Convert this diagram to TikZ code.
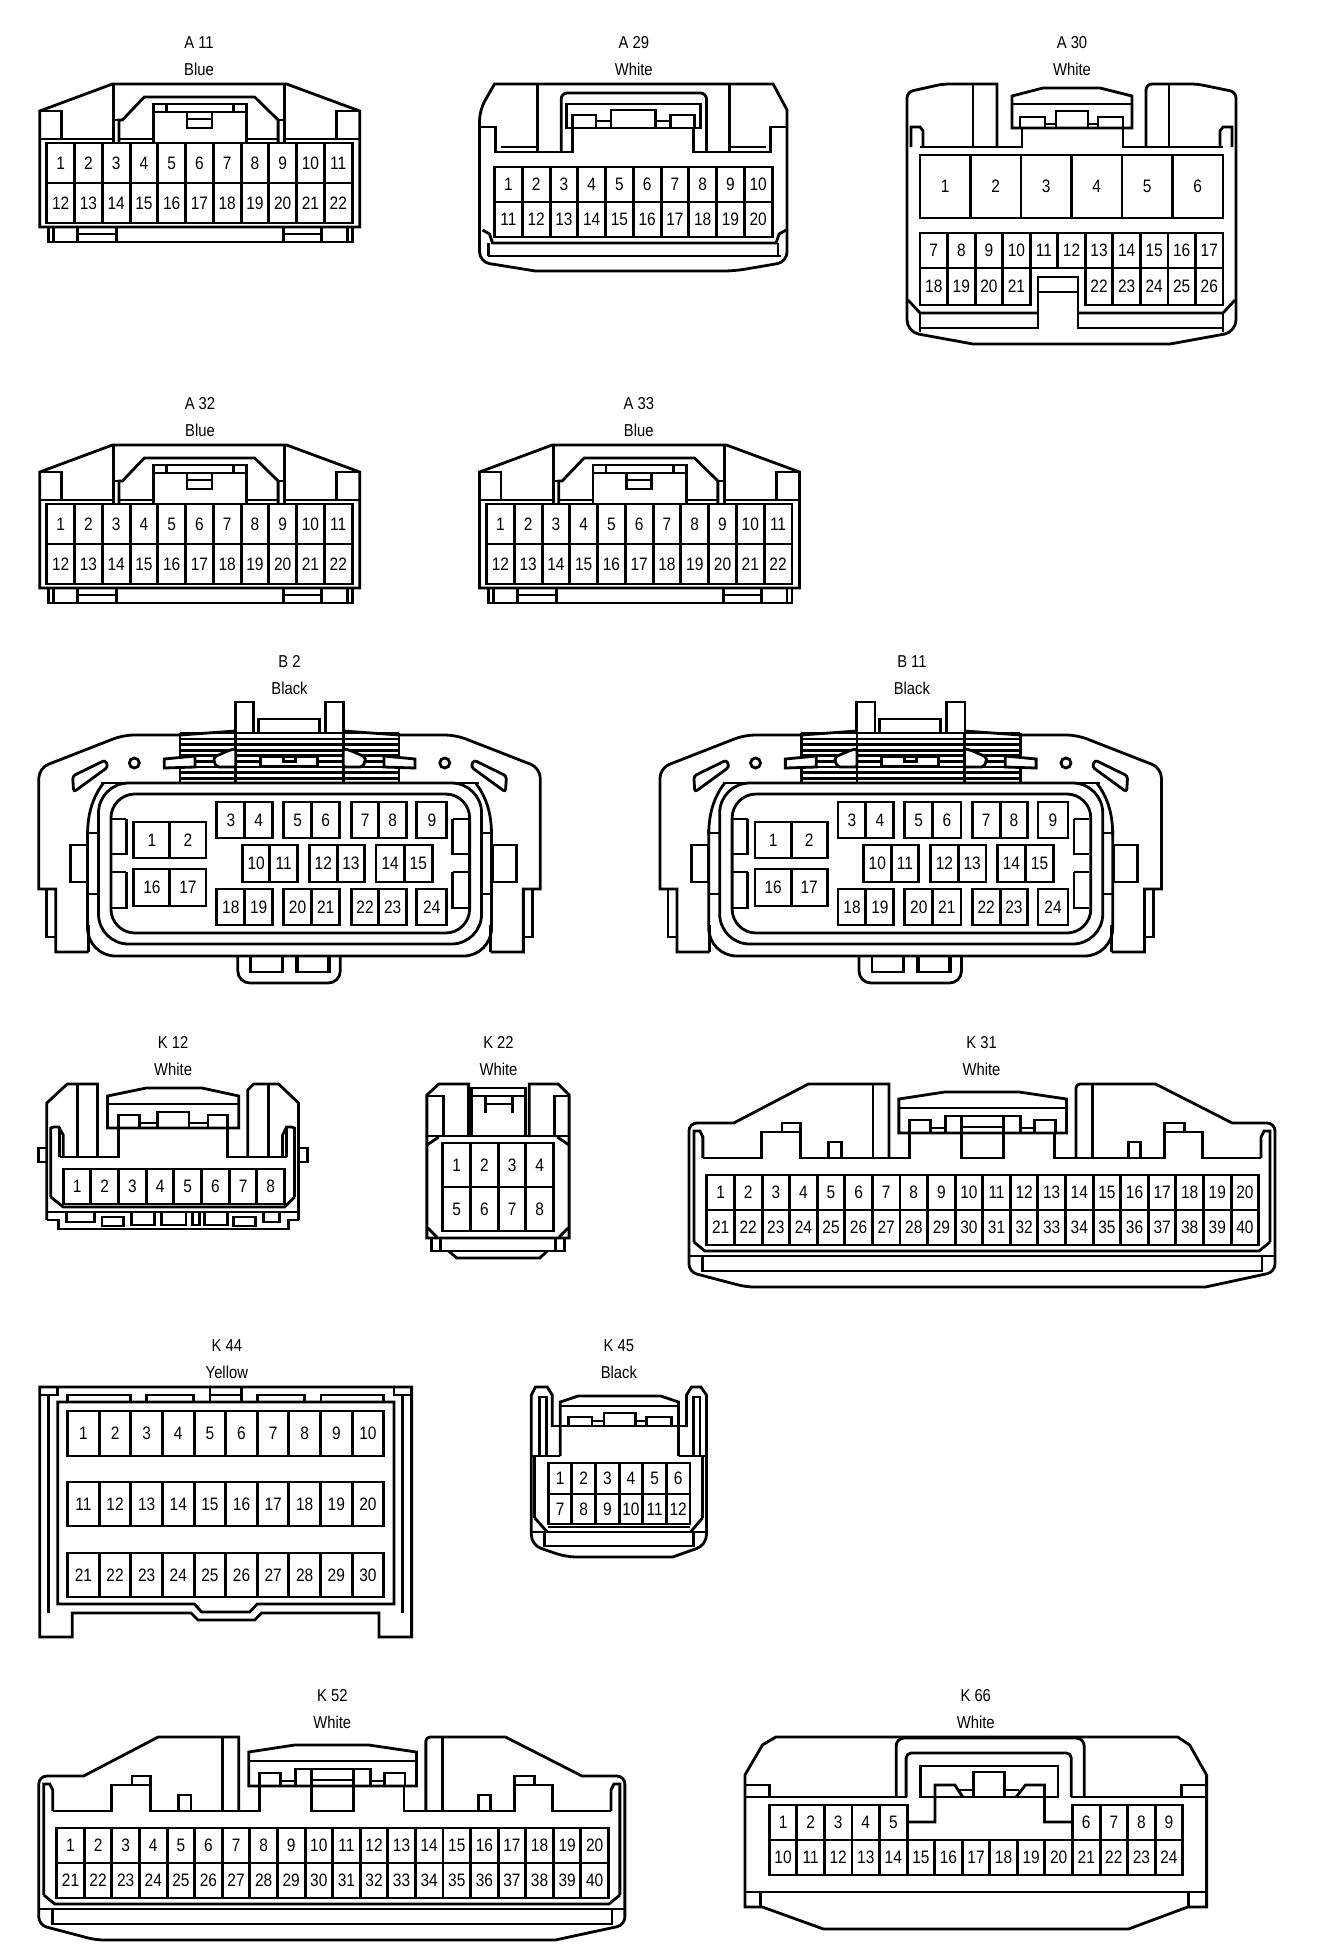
\documentclass[tikz,border=0pt]{standalone}
\usepackage{fontspec}
\setmainfont[FakeStretch=0.86]{Liberation Sans}
\usetikzlibrary{positioning}

\tikzset{
	conn/.style={line width=1.4pt},
	pin/.style={rectangle, draw, line width=1.4pt, inner sep=0pt, outer sep=0pt, font=\fontsize{9}{10}\selectfont},
	title/.style={inner sep=0pt, text height=7pt, text depth=2pt, font=\fontsize{8.6}{10}\selectfont},
	hatch/.style={line width=1.4pt}
}

% one row of pins: name, x, y, cell width, cell height, first, last
\newcommand{\pinrow}[7]{
	\foreach \n [count=\c from 0] in {#6,...,#7} {
		\node[pin, minimum width=#4*0.5pt, minimum height=#5*0.5pt] (#1-\n) at ({#2+(\c+0.5)*#4},{#3+#5/2}) {\n};
	}
}

% 22 pin blue housing
\newcommand{\connblue}[3]{
	\begin{scope}[shift={(#2,#3)}]
		\draw[conn] (40,227) -- (40,111) -- (113,84) -- (288,84) -- (361.5,111) -- (361.5,227) -- cycle;
		\draw[conn] (40,111) -- (61.5,111) -- (61.5,139);
		\draw[conn] (361.5,111) -- (338.5,111) -- (338.5,139);
		\draw[conn] (40,139) -- (114,139) -- (114,84);
		\draw[conn] (361.5,139) -- (286,139) -- (286,84);
		\draw[conn] (114,139) -- (114,143);
		\draw[conn] (286,139) -- (286,143);
		\draw[conn] (119.5,143) -- (119.5,120) -- (123,120) -- (145,97) -- (256,97) -- (279.5,120) -- (279.5,143);
		\draw[conn] (279.5,120) -- (286,120);
		\draw[conn] (114,120) -- (119.5,120);
		\draw[conn] (119.5,139) -- (154,139);
		\draw[conn] (248,139) -- (279.5,139);
		\draw[conn] (154,143) -- (154,104) -- (248,104) -- (248,143);
		\draw[conn] (154,112) -- (248,112);
		\draw[conn] (167,104) -- (167,112);
		\draw[conn] (235,104) -- (235,112);
		\draw[conn] (188,112) rectangle (213,128);
		\draw[conn] (188,119) -- (213,119);
		\pinrow{#1}{47}{143}{27.9}{40}{1}{11}
		\pinrow{#1}{47}{183}{27.9}{40}{12}{22}
		\draw[conn] (49,227) -- (49,242) -- (354,242) -- (354,227);
		\draw[conn] (54,227) -- (54,242);
		\draw[conn] (349,227) -- (349,242);
		\draw[conn] (78,227) -- (78,242);
		\draw[conn] (117,227) -- (117,242);
		\draw[conn] (78,234) -- (117,234);
		\draw[conn] (285,227) -- (285,242);
		\draw[conn] (323,227) -- (323,242);
		\draw[conn] (285,234) -- (323,234);
	\end{scope}
}

% 24 pin black housing
\newcommand{\connblack}[3]{
	\begin{scope}[shift={(#2,#3)}]
		\foreach \yy in {739,744.6,750.2,755.8,761.4,767,772.6,778.2} {
			\draw[hatch] (181,\yy) -- (401,\yy);
		}
		\foreach \s in {1,-1} {
			\begin{scope}[shift={(291,0)},xscale=\s,shift={(-291,0)}]
				\draw[conn] (89,952) -- (56,952) -- (56,889) -- (39,889) [rounded corners=5pt] -- (39,768) -- (124,735) [sharp corners] -- (181,735) -- (236.5,731);
				\draw[conn] (89,925) -- (89,952);
				\draw[conn] (47,889) -- (47,937) -- (56,937);
				\draw[conn] (236.5,733) -- (236.5,702) -- (255,702) -- (255,733);
				\draw[conn, rounded corners=1.5pt] (73,776) -- (106,760) -- (108.5,767) -- (74,792) -- cycle;
				\draw[conn] (135,763) circle[radius=5];
				\draw[conn] (181,733) -- (181,783);
				\draw[conn] (237,733) -- (237,783);
				\draw[conn, fill=white] (165,759) -- (196,756) -- (196,767) -- (165,768) -- cycle;
				\draw[conn, fill=white, rounded corners=1pt] (215,757) -- (231,750) -- (237,749) -- (237,767) -- (218,767) -- (215,762) -- cycle;
				\draw[conn] (89,833) -- (99,833);
				\draw[conn] (89,894) -- (99,894);
				\draw[conn] (127,819) -- (111.5,819);
				\draw[conn] (127,819) -- (127,854) -- (111.5,854);
				\draw[conn] (127,872) -- (111.5,872);
				\draw[conn] (127,872) -- (127,908) -- (111.5,908);
				\draw[conn] (88,835) .. controls (88,810) and (95,795) .. (104,783);
				\draw[conn, rounded corners=14pt] (88,830) -- (88,956) -- (291,956);
				\draw[conn] (252,956) -- (252,972) -- (284,972) -- (284,956);
			\end{scope}
		}
		\draw[conn] (260,733) -- (260,719) -- (321,719) -- (321,733);
		\draw[conn] (181,733) -- (401,733);
		\draw[conn] (102,783) -- (481,783);
		\draw[conn, fill=white] (262,757) rectangle (319,766);
		\draw[conn] (285,757) -- (285,761.5) -- (297,761.5) -- (297,757);
		\draw[conn, rounded corners=15pt] (99,783) rectangle (484,944);
		\draw[conn, rounded corners=12pt] (111.5,794) rectangle (472,933);
		\draw[conn] (71,845) rectangle (88,882);
		\draw[conn] (495,845) rectangle (519,882);
		\draw[conn] (239,956) -- (239,966) [rounded corners=6pt] -- (239,983) -- (342,983) [sharp corners] -- (342,956);
		\draw[conn] (299,956) -- (299,972) -- (331,972) -- (331,956);
		\pinrow{#1}{134.6}{822}{36.2}{36}{1}{2}
		\pinrow{#1}{134.6}{869}{36.2}{37}{16}{17}
		\pinrow{#1}{218}{802}{28}{36}{3}{4}
		\pinrow{#1}{285}{802}{28.2}{36}{5}{6}
		\pinrow{#1}{353}{802}{27.8}{36}{7}{8}
		\pinrow{#1}{419}{802}{30}{36}{9}{9}
		\pinrow{#1}{243.5}{845}{27.8}{37}{10}{11}
		\pinrow{#1}{311}{845}{27.8}{37}{12}{13}
		\pinrow{#1}{378}{845}{28.3}{37}{14}{15}
		\pinrow{#1}{218}{889}{28}{36}{18}{19}
		\pinrow{#1}{285}{889}{28.2}{36}{20}{21}
		\pinrow{#1}{353}{889}{27.8}{36}{22}{23}
		\pinrow{#1}{419}{889}{30}{36}{24}{24}
	\end{scope}
}

% 40 pin white housing
\newcommand{\connwide}[3]{
	\begin{scope}[shift={(#2,#3)}]
		\draw[conn] (890,1158) -- (890,1084) -- (809,1084) -- (734,1123) [rounded corners=4pt] -- (689,1123) -- (689,1272) -- (746.5,1287) [sharp corners] -- (1208,1287) [rounded corners=4pt] -- (1278,1272) -- (1278,1123) [sharp corners] -- (1235,1123) -- (1158,1084) [rounded corners=2pt] -- (1078,1084) [sharp corners] -- (1078,1158);
		\draw[conn] (703,1158) -- (762,1158) -- (762,1132) -- (801,1132) -- (801,1158) -- (910.6,1158) -- (910.6,1133);
		\draw[conn] (1056,1133) -- (1056,1158) -- (1167,1158) -- (1167,1132) -- (1205.5,1132) -- (1205.5,1158) -- (1264,1158);
		\draw[conn] (782.6,1132) -- (782.6,1123) -- (801,1123) -- (801,1132);
		\draw[conn] (1167,1132) -- (1167,1123) -- (1187,1123) -- (1187,1132);
		\draw[conn] (829.6,1158) -- (829.6,1142) -- (842,1142) -- (842,1158);
		\draw[conn] (1131,1158) -- (1131,1142) -- (1143,1142) -- (1143,1158);
		\draw[conn] (874,1084) -- (874,1158);
		\draw[conn] (1094.6,1084) -- (1094.6,1158);
		\draw[conn] (694,1242) -- (694,1131) -- (700,1131) -- (703,1137) -- (703,1158);
		\draw[conn] (1273,1242) -- (1273,1131) -- (1267,1131) -- (1264,1137) -- (1264,1158);
		\draw[conn] (900,1133) -- (900,1099) -- (946,1092) -- (1020.7,1092) -- (1068.5,1099) -- (1068.5,1133) -- cycle;
		\draw[conn] (900,1108) -- (1068.5,1108);
		\draw[conn] (910.6,1133) -- (910.6,1120) -- (932,1120) -- (932,1133);
		\draw[conn] (1036.5,1133) -- (1036.5,1120) -- (1057,1120) -- (1057,1133);
		\draw[conn] (932,1128) -- (947,1128);
		\draw[conn] (1022,1128) -- (1036.5,1128);
		\draw[conn] (947,1133) -- (947,1116) -- (1022,1116) -- (1022,1133);
		\draw[conn] (963,1116) -- (963,1158) -- (1005,1158) -- (1005,1116);
		\draw[conn] (963,1127) -- (1005,1127);
		\pinrow{#1}{707}{1175}{27.73}{35}{1}{20}
		\pinrow{#1}{707}{1210}{27.73}{35}{21}{40}
		\draw[conn] (694,1242) -- (705,1251) -- (1262,1251) -- (1273,1242);
		\draw[conn] (689,1256) -- (1278,1256);
		\draw[conn] (703,1256) -- (703,1271) -- (1265,1271) -- (1265,1256);
	\end{scope}
}

\begin{document}
\begin{tikzpicture}[x=0.5pt,y=-0.5pt]
	\useasboundingbox (0,0) rectangle (1328,1960);

	\node[title] (A30t) at (1072,43) {A 30};
	\node[title, below=4.5pt of A30t] (A30c) {White};
	\draw[conn] (997,147) -- (997,84) [rounded corners=3pt] -- (943,84) -- (907,92) [rounded corners=6pt] -- (907,332) [sharp corners] -- (973,344) -- (1170,344) [rounded corners=6pt] -- (1236,332) [rounded corners=3pt] -- (1236,92) -- (1197,84) -- (1146,84) [sharp corners] -- (1146,147);
	\draw[conn] (920,147) -- (1022,147) -- (1022,128);
	\draw[conn] (1123,128) -- (1123,147) -- (1223,147);
	\draw[conn] (1012,128) -- (1012,96) -- (1043,88) -- (1100,88) -- (1132,96) -- (1132,128) -- cycle;
	\draw[conn] (1012,104) -- (1132,104);
	\draw[conn] (911,147) -- (911,127) -- (920,127) -- (923,131) -- (923,147);
	\draw[conn] (1232,147) -- (1232,127) -- (1223,127) -- (1220,131) -- (1220,147);
	\draw[conn] (973,84) -- (973,147);
	\draw[conn] (1169,84) -- (1169,147);
	\draw[conn] (1020,128) -- (1020,117) -- (1045,117) -- (1045,128);
	\draw[conn] (1056,128) -- (1056,111) -- (1088,111) -- (1088,128);
	\draw[conn] (1098,128) -- (1098,117) -- (1123,117) -- (1123,128);
	\draw[conn] (1045,124) -- (1056,124);
	\draw[conn] (1088,124) -- (1098,124);
	\pinrow{A30}{920}{155}{50.5}{63}{1}{6}
	\pinrow{A30}{920}{233}{27.55}{35}{7}{17}
	\pinrow{A30}{920}{268}{27.55}{37}{18}{21}
	\pinrow{A30}{1085.3}{268}{27.55}{37}{22}{26}
	\draw[conn] (920,328) -- (1038,328) -- (1038,277) -- (1078,277) -- (1078,328) -- (1223,328);
	\draw[conn] (1038,292) -- (1078,292);
	\draw[conn] (908,300) -- (920,313) -- (1038,313);
	\draw[conn] (1235,300) -- (1223,313) -- (1078,313);
	\draw[conn] (920,313) -- (920,332);
	\draw[conn] (1223,313) -- (1223,332);

	\begin{scope}[xscale=0.995]
	% first row
	\node[title] (A11t) at (200,43) {A 11};
	\node[title, below=4.5pt of A11t] (A11c) {Blue};
	\connblue{A11}{0}{0}

	\node[title] (A29t) at (637,43) {A 29};
	\node[title, below=4.5pt of A29t] (A29c) {White};
	\draw[conn] (497,84) -- (777,84) -- (791,110) [rounded corners=5pt] -- (791,262) -- (738,271) [sharp corners] -- (538,271) [rounded corners=5pt] -- (482,262) -- (482,110) [sharp corners] -- cycle;
	\draw[conn] (482,127) -- (498,127) -- (498,152) -- (575,152) -- (575,128);
	\draw[conn] (697,128) -- (697,152) -- (774,152) -- (774,127) -- (791,127);
	\draw[conn, rounded corners=3pt] (564,152) -- (564,93) -- (710,93) -- (710,152);
	\draw[conn] (569,104) rectangle (704,128);
	\draw[conn] (540,84) -- (540,152);
	\draw[conn] (733,84) -- (733,152);
	\draw[conn] (503.6,147) -- (540,147);
	\draw[conn] (733,147) -- (770,147);
	\draw[conn] (575,128) -- (575,115) -- (599,115) -- (599,128);
	\draw[conn] (614,128) -- (614,110) -- (659,110) -- (659,128);
	\draw[conn] (674,128) -- (674,115) -- (698,115) -- (698,128);
	\draw[conn] (599,121) -- (614,121);
	\draw[conn] (659,121) -- (674,121);
	\pinrow{A29}{497}{167}{27.9}{35}{1}{10}
	\pinrow{A29}{497}{202}{27.9}{35}{11}{20}
	\draw[conn] (485,230) -- (492,234) -- (495,243) -- (780,243) -- (783,234) -- (790,230);
	\draw[conn] (490,256) -- (785,256);
	\draw[conn] (491,243) -- (491,256);
	\draw[conn] (782,243) -- (782,256);

	% second row
	\node[title] (A32t) at (201,404) {A 32};
	\node[title, below=4.5pt of A32t] (A32c) {Blue};
	\connblue{A32}{0}{361}

	\node[title] (A33t) at (642,404) {A 33};
	\node[title, below=4.5pt of A33t] (A33c) {Blue};
	\connblue{A33}{442}{361}

	% third row
	\node[title] (B2t) at (291,662) {B 2};
	\node[title, below=4.5pt of B2t] (B2c) {Black};
	\connblack{B2}{0}{0}

	\node[title] (B11t) at (916.5,662) {B 11};
	\node[title, below=4.5pt of B11t] (B11c) {Black};
	\connblack{B11}{624.3}{0}

	% fourth row
	\node[title] (K12t) at (174,1043) {K 12};
	\node[title, below=4.5pt of K12t] (K12c) {White};
	\draw[conn] (47,1220) -- (47,1103) -- (67.6,1084) -- (98,1084) -- (98,1157);
	\draw[conn] (249,1157) -- (249,1090) -- (255,1084) -- (280,1084) -- (300,1103) -- (300,1220);
	\draw[conn] (78,1084) -- (78,1157);
	\draw[conn] (270,1084) -- (270,1157);
	\draw[conn] (60,1157) -- (119,1157) -- (119,1128);
	\draw[conn] (228.5,1128) -- (228.5,1157) -- (288,1157);
	\draw[conn] (108,1128) -- (108,1096) -- (147,1088) -- (203,1088) -- (240,1096) -- (240,1128) -- cycle;
	\draw[conn] (108,1104) -- (240,1104);
	\draw[conn] (119,1128) -- (119,1115) -- (140,1115) -- (140,1128);
	\draw[conn] (158,1128) -- (158,1112) -- (190,1112) -- (190,1128);
	\draw[conn] (209,1128) -- (209,1115) -- (229,1115) -- (229,1128);
	\draw[conn] (140,1123) -- (158,1123);
	\draw[conn] (190,1123) -- (209,1123);
	\draw[conn] (47,1148) -- (38.5,1148) -- (38.5,1162) -- (47,1162);
	\draw[conn] (300,1148) -- (309,1148) -- (309,1162) -- (300,1162);
	\draw[conn] (51,1197) -- (51,1128) -- (54,1127) -- (59,1127) -- (63.6,1135) -- (63.6,1157);
	\draw[conn] (296,1197) -- (296,1128) -- (293,1127) -- (288,1127) -- (284,1135) -- (284,1157);
	\draw[conn] (60,1127) -- (60,1157);
	\draw[conn] (288,1127) -- (288,1157);
	\pinrow{K12}{63.6}{1169}{27.8}{35}{1}{8}
	\draw[conn] (51,1197) -- (63.6,1207) -- (286,1207) -- (296,1197);
	\draw[conn] (47,1212) -- (300,1212);
	\draw[conn] (47,1220) -- (59,1220) -- (59,1229) -- (290,1229) -- (290,1220) -- (300,1220);
	\draw[conn] (67,1212) -- (67,1222) -- (94.6,1222) -- (94.6,1212);
	\draw[conn] (102.5,1217) rectangle (124.4,1226);
	\draw[conn] (132,1212) -- (132,1225) -- (155,1225) -- (155,1212);
	\draw[conn] (162,1212) -- (162,1225) -- (187,1225) -- (187,1212);
	\draw[conn] (193.5,1212) -- (193.5,1225) -- (200.7,1225) -- (200.7,1212);
	\draw[conn] (205.5,1212) -- (205.5,1225) -- (228.5,1225) -- (228.5,1212);
	\draw[conn] (235,1217) rectangle (257,1226);
	\draw[conn] (265,1212) -- (265,1222) -- (281,1222) -- (281,1212);

	\node[title] (K22t) at (501,1043) {K 22};
	\node[title, below=4.5pt of K22t] (K22c) {White};
	\draw[conn] (471,1137) -- (471,1084) -- (441,1084) -- (429,1095) -- (429,1238) -- (572,1238) -- (572,1095) -- (561,1084) -- (532,1084) -- (532,1137);
	\draw[conn] (429,1096) -- (446,1096) -- (446,1137);
	\draw[conn] (572,1096) -- (557.6,1096) -- (557.6,1137);
	\draw[conn] (429,1136) -- (572,1136);
	\draw[conn] (474,1137) -- (474,1088) -- (528,1088) -- (528,1137);
	\draw[conn] (474,1096) -- (528,1096);
	\draw[conn] (488,1113) -- (488,1096);
	\draw[conn] (515,1113) -- (515,1096);
	\draw[conn] (488,1104) -- (515,1104);
	\draw[conn] (429,1145) -- (441,1137);
	\draw[conn] (572,1145) -- (560,1137);
	\draw[conn] (430,1228) -- (439,1237);
	\draw[conn] (571,1228) -- (562,1237);
	\pinrow{K22}{445}{1143}{27.85}{44}{1}{4}
	\pinrow{K22}{445}{1187}{27.85}{44}{5}{8}
	\draw[conn] (434,1238) -- (434,1251) -- (567.6,1251) -- (567.6,1238);
	\draw[conn] (443,1238) -- (443,1251);
	\draw[conn] (558,1238) -- (558,1251);
	\draw[conn] (451,1251) -- (459,1258) -- (542.5,1258) -- (550,1251);

	\node[title] (K31t) at (986.5,1043) {K 31};
	\node[title, below=4.5pt of K31t] (K31c) {White};
	\connwide{K31}{3.4}{0}

	% fifth row
	\node[title] (K44t) at (228,1346) {K 44};
	\node[title, below=4.5pt of K44t] (K44c) {Yellow};
	\draw[conn] (40,1387) -- (413.7,1387) -- (413.7,1637) -- (381,1637) -- (381,1613) -- (263,1613) -- (256,1620) -- (199,1620) -- (192,1613) -- (72.6,1613) -- (72.6,1637) -- (40,1637) -- cycle;
	\draw[conn] (49,1395) -- (49,1613);
	\draw[conn] (404.6,1395) -- (404.6,1613);
	\draw[conn] (40,1395) -- (58,1395) -- (58,1387);
	\draw[conn] (413.7,1395) -- (396,1395) -- (396,1387);
	\draw[conn] (58,1402) -- (396,1402) -- (396,1604) -- (258.5,1604) -- (251,1612) -- (202.6,1612) -- (195.4,1604) -- (58,1604) -- cycle;
	\draw[conn] (68,1402) -- (68,1395) -- (131,1395) -- (131,1402);
	\draw[conn] (147,1402) -- (147,1395) -- (194.5,1395) -- (194.5,1402);
	\draw[conn] (211,1387) -- (211,1402);
	\draw[conn] (243,1387) -- (243,1402);
	\draw[conn] (211,1395) -- (243,1395);
	\draw[conn] (258.5,1402) -- (258.5,1395) -- (306,1395) -- (306,1402);
	\draw[conn] (322.6,1402) -- (322.6,1395) -- (385.7,1395) -- (385.7,1402);
	\pinrow{K44}{68}{1411}{31.77}{45}{1}{10}
	\pinrow{K44}{68}{1482}{31.77}{44}{11}{20}
	\pinrow{K44}{68}{1553}{31.77}{44}{21}{30}

	\node[title] (K45t) at (622,1346) {K 45};
	\node[title, below=4.5pt of K45t] (K45c) {Black};
	\draw[conn] (555,1427) -- (555,1395) -- (550,1387) -- (538,1387) -- (534,1395) [rounded corners=5pt] -- (534,1545) -- (569,1557) [sharp corners] -- (676,1557) [rounded corners=5pt] -- (710,1545) [sharp corners] -- (710,1395) -- (704.4,1387) -- (695,1387) -- (690,1395) -- (690,1427);
	\draw[conn] (542,1456) -- (542,1397) -- (549,1397) -- (549,1456);
	\draw[conn] (697.3,1456) -- (697.3,1397) -- (703.5,1397) -- (703.5,1456);
	\draw[conn] (563,1456) -- (563,1402) -- (581,1396) -- (664,1396) -- (682,1402) -- (682,1456);
	\draw[conn] (563,1406) -- (682,1406);
	\draw[conn] (555,1426) -- (690,1426);
	\draw[conn] (571,1426) -- (571,1417) -- (595,1417) -- (595,1426);
	\draw[conn] (607,1426) -- (607,1413) -- (639,1413) -- (639,1426);
	\draw[conn] (650,1426) -- (650,1417) -- (675,1417) -- (675,1426);
	\draw[conn] (595,1421) -- (607,1421);
	\draw[conn] (639,1421) -- (650,1421);
	\draw[conn] (534,1456) -- (563,1456);
	\draw[conn] (682,1456) -- (710,1456);
	\draw[conn] (537.5,1456) -- (537.5,1518);
	\draw[conn] (706,1456) -- (706,1518);
	\pinrow{K45}{551}{1463}{23.75}{31}{1}{6}
	\pinrow{K45}{551}{1494}{23.75}{30}{7}{12}
	\draw[conn] (537.5,1518) -- (550,1532);
	\draw[conn] (706,1518) -- (694,1532);
	\draw[conn] (551,1527) -- (693.5,1527);
	\draw[conn] (534,1532) -- (710,1532);
	\draw[conn] (547,1532) -- (547,1546) -- (697,1546) -- (697,1532);

	% last row
	\node[title] (K52t) at (334,1696) {K 52};
	\node[title, below=4.5pt of K52t] (K52c) {White};
	\connwide{K52}{-650}{653}

	\begin{scope}[xshift=1.83pt]
	\node[title] (K66t) at (977,1696) {K 66};
	\node[title, below=4.5pt of K66t] (K66c) {White};
	\draw[conn] (745,1775) -- (762.6,1745) -- (776,1737) -- (1180,1737) -- (1192,1745) -- (1209,1775) -- (1209,1907) -- (1190,1907) -- (1130.5,1929) -- (824,1929) -- (762.6,1907) -- (745,1907) -- cycle;
	\draw[conn] (745,1797) -- (908,1797);
	\draw[conn] (1073,1797) -- (1209,1797);
	\draw[conn] (745,1785) -- (770,1785) -- (770,1797);
	\draw[conn] (1184,1797) -- (1184,1785) -- (1209,1785);
	\draw[conn, rounded corners=4pt] (897,1797) -- (897,1738) -- (1086,1738) -- (1086,1797);
	\draw[conn, rounded corners=2.5pt] (907,1797) -- (907,1753) -- (1073,1753) -- (1073,1797);
	\draw[conn] (921.6,1766) rectangle (1059.6,1797);
	\draw[conn] (908,1822) -- (936,1822) -- (936,1785) -- (956,1785) -- (964,1797);
	\draw[conn] (1017.5,1797) -- (1027,1785) -- (1046,1785) -- (1046,1822) -- (1073,1822);
	\draw[conn] (975,1797) -- (975,1772) -- (1006,1772) -- (1006,1797);
	\draw[conn] (960,1790) -- (975,1790);
	\draw[conn] (1006,1790) -- (1020,1790);
	\pinrow{K66}{769.5}{1805}{27.7}{35}{1}{5}
	\pinrow{K66}{1074.2}{1805}{27.7}{35}{6}{9}
	\pinrow{K66}{769.5}{1840}{27.7}{35}{10}{24}
	\draw[conn] (745,1892) -- (1209,1892);
	\draw[conn] (761,1892) -- (761,1907);
	\draw[conn] (1191,1892) -- (1191,1907);
	\end{scope}
	\end{scope}
\end{tikzpicture}
\end{document}
